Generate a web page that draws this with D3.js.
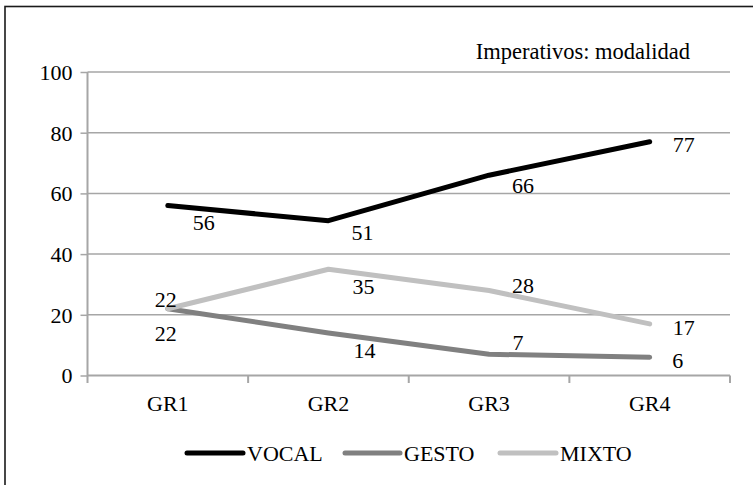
<!DOCTYPE html>
<html>
<head>
<meta charset="utf-8">
<script src="https://cdn.jsdelivr.net/npm/d3@7"></script>
<style>
  html, body { margin: 0; padding: 0; background: #fff; }
  svg { display: block; }
  svg text { font-family: "Liberation Serif", "Times New Roman", Tinos, "DejaVu Serif", serif !important; fill: #000; }
</style>
</head>
<body>
<div id="chart"></div>
<script>
const categories = ["GR1", "GR2", "GR3", "GR4"];
const vocal = [56, 51, 66, 77];
const gesto = [22, 14, 7, 6];
const mixto = [22, 35, 28, 17];
const yTicks = [0, 20, 40, 60, 80, 100];
const title = "Imperativos: modalidad";

const series = [
  { name: "VOCAL", values: vocal, color: "#000000",
    lab: [[36, 24], [34, 19], [34, 18], [34, 10]] },
  { name: "GESTO", values: gesto, color: "#808080",
    lab: [[-2, 32], [36, 25], [29, -4], [28, 11]] },
  { name: "MIXTO", values: mixto, color: "#c0c0c0",
    lab: [[-2, -2], [35, 25], [34, 2], [34, 11]] }
];

const FS = 22;
const W = 753, H = 485;
const svg = d3.select("#chart").append("svg").attr("width", W).attr("height", H);

// outer frame (top and left edges visible)
svg.append("rect").attr("x", 5).attr("y", 6.5).attr("width", 900).attr("height", 700)
  .attr("fill", "none").attr("stroke", "#1a1a1a").attr("stroke-width", 1.6);

const x0 = 87.5, x1 = 730, yTop = 72, yBot = 375.5;
const x = d3.scaleBand().domain(categories).range([x0, x1]).padding(0);
const y = d3.scaleLinear().domain([0, 100]).range([yBot, yTop]);
const cx = c => x(c) + x.bandwidth() / 2;

// gridlines
svg.append("g").selectAll("line").data(yTicks.filter(t => t > 0)).join("line")
  .attr("x1", x0).attr("x2", x1)
  .attr("y1", d => y(d)).attr("y2", d => y(d))
  .attr("stroke", "#a6a6a6").attr("stroke-width", 1.5);

// y axis
const yAxis = d3.axisLeft(y).tickValues(yTicks).tickSize(7).tickPadding(8).tickFormat(d3.format("d"));
const gy = svg.append("g").attr("transform", `translate(${x0},0)`).call(yAxis);
gy.attr("font-family", null);
gy.select(".domain").remove();
gy.selectAll(".tick line").attr("stroke", "#a6a6a6").attr("stroke-width", 1.5);
gy.selectAll(".tick text").attr("font-size", FS).attr("fill", "#000").attr("dy", "0.34em");
svg.append("line").attr("x1", x0).attr("x2", x0).attr("y1", yTop).attr("y2", yBot + 7.5)
  .attr("stroke", "#a6a6a6").attr("stroke-width", 2);

// x axis
svg.append("line").attr("x1", x0).attr("x2", x1).attr("y1", yBot).attr("y2", yBot)
  .attr("stroke", "#a6a6a6").attr("stroke-width", 2);
const bounds = categories.map(c => x(c) + x.bandwidth());
svg.append("g").selectAll("line").data(bounds).join("line")
  .attr("x1", d => d).attr("x2", d => d).attr("y1", yBot).attr("y2", yBot + 7.5)
  .attr("stroke", "#a6a6a6").attr("stroke-width", 2);
svg.append("g").selectAll("text").data(categories).join("text")
  .attr("x", d => cx(d)).attr("y", 411).attr("text-anchor", "middle")
  .attr("font-size", FS).text(d => d);

// title
svg.append("text").attr("x", 690).attr("y", 59).attr("text-anchor", "end")
  .attr("font-size", FS + 0.5).text(title);

// lines
const line = d3.line().x((d, i) => cx(categories[i])).y(d => y(d));
series.forEach(s => {
  svg.append("path").datum(s.values).attr("d", line)
    .attr("fill", "none").attr("stroke", s.color).attr("stroke-width", 5)
    .attr("stroke-linecap", "round").attr("stroke-linejoin", "round");
});
// labels
series.forEach(s => {
  svg.append("g").selectAll("text").data(s.values).join("text")
    .attr("x", (d, i) => cx(categories[i]) + s.lab[i][0])
    .attr("y", (d, i) => y(d) + s.lab[i][1])
    .attr("text-anchor", "middle").attr("font-size", FS)
    .text(d => d);
});

// legend
const legendX = [[187, 243], [345, 400], [500, 556]];
const lg = svg.append("g");
series.forEach((s, i) => {
  lg.append("line").attr("x1", legendX[i][0]).attr("x2", legendX[i][1])
    .attr("y1", 453).attr("y2", 453).attr("stroke", s.color).attr("stroke-width", 5)
    .attr("stroke-linecap", "round");
  lg.append("text").attr("x", legendX[i][1] + 4).attr("y", 460.5).attr("font-size", FS).text(s.name);
});
</script>
</body>
</html>
